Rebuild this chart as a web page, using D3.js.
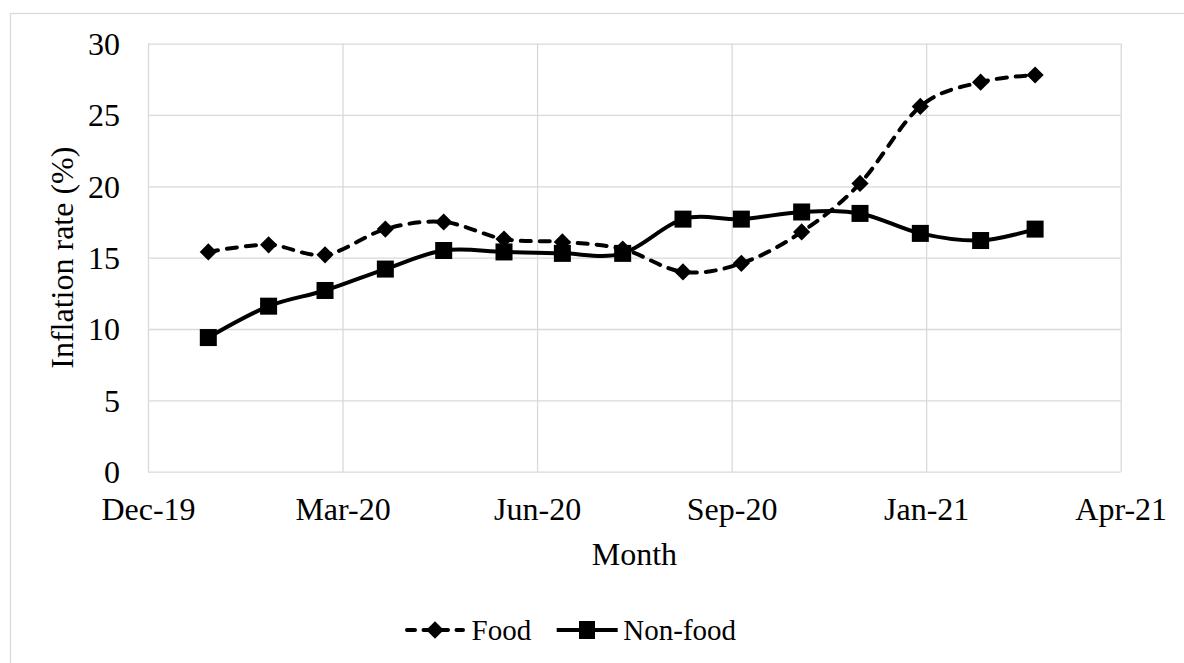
<!DOCTYPE html>
<html>
<head>
<meta charset="utf-8">
<script src="https://cdn.jsdelivr.net/npm/d3@7"></script>
<style>
  html, body { margin: 0; padding: 0; background: #fff; }
  svg { display: block; }
  text { font-family: "Liberation Serif", "Times New Roman", serif; fill: #000; }
</style>
</head>
<body>
<svg id="chart" width="1184" height="663"></svg>
<script>
// Monthly inflation rates, Jan 2020 – Mar 2021
const months = ["2020-01","2020-02","2020-03","2020-04","2020-05","2020-06","2020-07",
                "2020-08","2020-09","2020-10","2020-11","2020-12","2021-01","2021-02","2021-03"];
const food    = [15.4, 15.9, 15.2, 17.0, 17.5, 16.3, 16.1, 15.6, 14.0, 14.6, 16.8, 20.2, 25.6, 27.3, 27.8];
const nonFood = [9.4, 11.6, 12.7, 14.2, 15.5, 15.4, 15.3, 15.3, 17.7, 17.7, 18.2, 18.1, 16.7, 16.2, 17.0];
const yTicks  = [0, 5, 10, 15, 20, 25, 30];
const seriesNames = ["Food", "Non-food"];

// Date axis: starts 1 Dec 2019, major unit of 100 days
const axisStart = "2019-12-01";
const axisUnitDays = 100;
const axisUnits = 5;

const parseMonth = d3.timeParse("%Y-%m");
const parseDay = d3.timeParse("%Y-%m-%d");
const dates = months.map(parseMonth);
const start = parseDay(axisStart);
const xTicks = d3.range(axisUnits + 1).map(i => d3.timeDay.offset(start, i * axisUnitDays));

const svg = d3.select("#chart");
const plot = { left: 148, right: 1120.7, top: 43.6, bottom: 471.7 };
const fs = 32;

const x = d3.scaleTime().domain([xTicks[0], xTicks[xTicks.length - 1]]).range([plot.left, plot.right]);
const y = d3.scaleLinear().domain([0, 30]).range([plot.bottom, plot.top]);

const grid = "#d9d9d9";

// outer chart frame
svg.append("rect")
  .attr("x", 10.5).attr("y", 13.5)
  .attr("width", 1200).attr("height", 700)
  .attr("fill", "none").attr("stroke", grid).attr("stroke-width", 1.3);

// horizontal gridlines + y labels
const yAxis = d3.axisLeft(y).tickValues(yTicks).tickSize(-(plot.right - plot.left));
const gy = svg.append("g").attr("transform", `translate(${plot.left},0)`).call(yAxis);
gy.select(".domain").remove();
gy.selectAll(".tick line").attr("stroke", grid).attr("stroke-width", 1.3);
gy.selectAll(".tick text").attr("font-size", fs).attr("x", 120 - plot.left).attr("dy", "0.34em")
  .attr("font-family", "Liberation Serif");

// vertical gridlines + date labels
const xAxis = d3.axisBottom(x).tickValues(xTicks).tickFormat(d3.timeFormat("%b-%y"))
  .tickSize(-(plot.bottom - plot.top));
const gx = svg.append("g").attr("transform", `translate(0,${plot.bottom})`).call(xAxis);
gx.select(".domain").remove();
gx.selectAll(".tick line").attr("stroke", grid).attr("stroke-width", 1.3);
gx.selectAll(".tick text").attr("font-size", fs).attr("y", 520 - plot.bottom).attr("dy", 0)
  .attr("font-family", "Liberation Serif");

// axis titles
svg.append("text")
  .attr("x", (plot.left + plot.right) / 2).attr("y", 565)
  .attr("text-anchor", "middle").attr("font-size", fs)
  .text("Month");
svg.append("text")
  .attr("transform", `translate(73,${(plot.top + plot.bottom) / 2}) rotate(-90)`)
  .attr("text-anchor", "middle").attr("font-size", fs)
  .text("Inflation rate (%)");

// smoothed series lines
const line = d3.line()
  .x((d, i) => x(dates[i]))
  .y(d => y(d))
  .curve(d3.curveCatmullRom.alpha(0));

const diamond = s => `M0,${-s}L${s},0L0,${s}L${-s},0Z`;
const dash = "10,9";
const lw = 4;

function drawSeries(values, dashed, marker) {
  svg.append("path")
    .datum(values)
    .attr("d", line)
    .attr("fill", "none")
    .attr("stroke", "#000")
    .attr("stroke-width", lw)
    .attr("stroke-linecap", dashed ? "round" : "butt")
    .attr("stroke-linejoin", "round")
    .attr("stroke-dasharray", dashed ? dash : null);
  const g = svg.append("g");
  values.forEach((v, i) => {
    if (marker === "diamond") {
      g.append("path").attr("d", diamond(8.6))
        .attr("transform", `translate(${x(dates[i])},${y(v)})`).attr("fill", "#000");
    } else {
      g.append("rect").attr("x", x(dates[i]) - 8.5).attr("y", y(v) - 8.5)
        .attr("width", 17).attr("height", 17).attr("fill", "#000");
    }
  });
}

drawSeries(food, true, "diamond");
drawSeries(nonFood, false, "square");

// legend
const legY = 630;
const leg = svg.append("g");
leg.append("line").attr("x1", 407).attr("x2", 463).attr("y1", legY).attr("y2", legY)
  .attr("stroke", "#000").attr("stroke-width", lw).attr("stroke-linecap", "round")
  .attr("stroke-dasharray", "8,8.5");
leg.append("path").attr("d", diamond(8.8)).attr("transform", `translate(435,${legY})`).attr("fill", "#000");
leg.append("text").attr("x", 471.5).attr("y", 640).attr("font-size", 29).text(seriesNames[0]);

leg.append("line").attr("x1", 556.7).attr("x2", 617.7).attr("y1", legY).attr("y2", legY)
  .attr("stroke", "#000").attr("stroke-width", lw);
leg.append("rect").attr("x", 587 - 8).attr("y", legY - 9).attr("width", 16).attr("height", 18).attr("fill", "#000");
leg.append("text").attr("x", 623.3).attr("y", 640).attr("font-size", 29).text(seriesNames[1]);
</script>
</body>
</html>
